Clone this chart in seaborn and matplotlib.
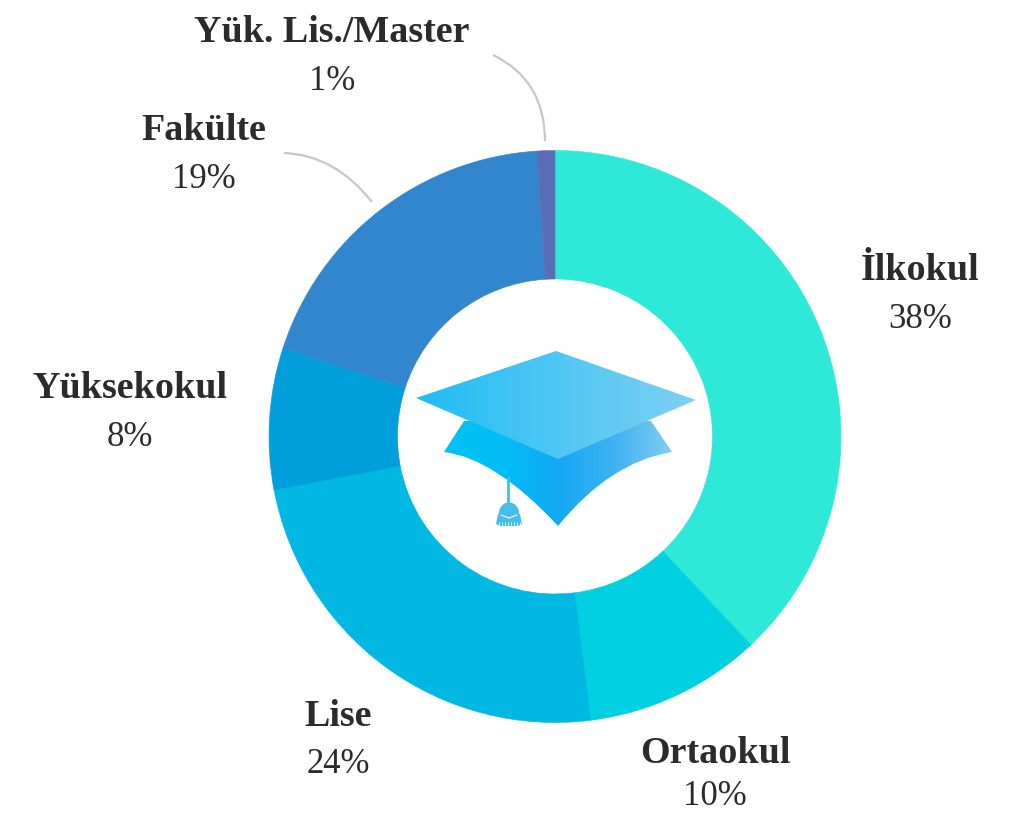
import numpy as np
import matplotlib
matplotlib.use("Agg")
import matplotlib.pyplot as plt
import seaborn as sns
from matplotlib.colors import LinearSegmentedColormap
from matplotlib.path import Path
from matplotlib.patches import Ellipse, PathPatch, Polygon

# education levels
levels = ["İlkokul", "Ortaokul", "Lise", "Yüksekokul", "Fakülte", "Yük. Lis./Master"]
shares = [38, 10, 24, 8, 19, 1]
colors = ["#2EE8D8", "#00D0E0", "#00B8E2", "#009FDC", "#3186CD", "#5B6DB5"]

W, H = 1023, 813
CX, CY = 555, 436.5


def fy(y):
    # picture pixels count from the top
    return H - y


sns.set_theme(style="white")
plt.rcParams["font.family"] = ["Liberation Serif", "DejaVu Serif"]

fig = plt.figure(figsize=(W / 100, H / 100), dpi=100)
ax = fig.add_axes([0, 0, 1, 1])

wedges, _ = ax.pie(shares, colors=sns.color_palette(colors), startangle=90, counterclock=False,
                   center=(CX, fy(CY)), radius=286, wedgeprops=dict(width=128.5),
                   frame=True)
# close the hairline seams between slices
for w in wedges:
    w.set_edgecolor(w.get_facecolor())
    w.set_linewidth(0.4)

# labels: x, y of the name line and of the percent line
label_pos = [(920, 271, 319), (715, 753, 796), (338, 716, 764),
             (130, 389, 437), (204, 131, 179), (332, 33, 81)]
for name, val, (x, y1, y2) in zip(levels, shares, label_pos):
    ax.text(x, fy(y1), name, ha="center", va="center", fontsize=27.4,
            fontweight="bold", color="#2b2b2b")
    ax.text(x, fy(y2), "%d%%" % val, ha="center", va="center", fontsize=25,
            color="#2b2b2b")

# leader lines for the two small labels
for p0, p1, p2 in [((493, 55), (545, 80), (545, 141)),
                   ((284, 153), (335, 155), (372, 202))]:
    verts = [(p[0], fy(p[1])) for p in (p0, p1, p2)]
    ax.add_patch(PathPatch(Path(verts, [Path.MOVETO, Path.CURVE3, Path.CURVE3]),
                           fill=False, edgecolor="#c8c8c8", linewidth=1.6))

# graduation cap in the middle
lower = Path([(464, fy(421)), (444, fy(452)),
              (495, fy(458)), (558, fy(526)),
              (610, fy(462)), (672, fy(452)),
              (651, fy(421)), (464, fy(421))],
             [Path.MOVETO, Path.LINETO, Path.CURVE3, Path.CURVE3,
              Path.CURVE3, Path.CURVE3, Path.LINETO, Path.CLOSEPOLY])
board = Polygon([(416, fy(398)), (556, fy(351)), (696, fy(400)), (558, fy(459))],
                closed=True, transform=ax.transData, facecolor="none", edgecolor="none")
ax.add_patch(board)

lower_cmap = LinearSegmentedColormap.from_list("lower", ["#00C2F5", "#00BEF6", "#14A8F4", "#3FB2F2", "#80CDF0"])
board_cmap = LinearSegmentedColormap.from_list("board", ["#1FBDF4", "#7FD0F2"])
grad = np.linspace(0, 1, 256).reshape(1, -1)

im = ax.imshow(grad, cmap=lower_cmap, extent=(444, 672, fy(526), fy(421)), aspect="auto", zorder=3)
clip = PathPatch(lower, transform=ax.transData, facecolor="none", edgecolor="none")
ax.add_patch(clip)
im.set_clip_path(clip)

im2 = ax.imshow(grad, cmap=board_cmap, extent=(416, 696, fy(459), fy(351)), aspect="auto", zorder=4)
im2.set_clip_path(board)

# tassel
tassel = "#45BFEA"
ax.plot([508, 508], [fy(478), fy(506)], color=tassel, linewidth=2, zorder=3)
ax.add_patch(Ellipse((509, fy(513)), 20, 21, facecolor=tassel, edgecolor="none", zorder=3))
ax.add_patch(Polygon([(498, fy(514)), (520, fy(514)), (522, fy(524)), (518, fy(526)),
                      (500, fy(526)), (496, fy(524))],
                     closed=True, facecolor=tassel, edgecolor="none", zorder=3))
ax.plot([501, 509, 517], [fy(515), fy(518), fy(515)], color="white", linewidth=0.8, zorder=3)
for x in [499, 502, 505, 508, 511, 514, 517, 520]:
    ax.plot([x, x], [fy(522), fy(527)], color="white", linewidth=0.5, zorder=3)

ax.set_xlim(0, W)
ax.set_ylim(0, H)
ax.set_aspect("auto")
ax.axis("off")

fig.savefig("out.png", dpi=100, facecolor="white")
